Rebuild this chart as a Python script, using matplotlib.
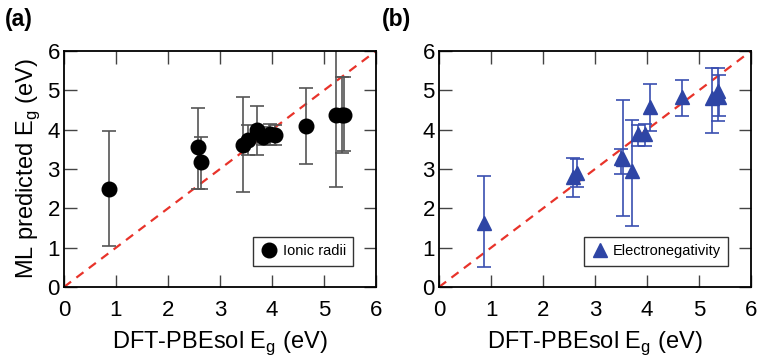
import matplotlib.pyplot as plt
from matplotlib.lines import Line2D
import numpy as np

plt.rcParams['font.family'] = ['Liberation Sans', 'DejaVu Sans']

# panel (a): ionic radii model
x_a = [0.86, 2.57, 2.64, 3.45, 3.53, 3.71, 3.83, 3.96, 4.06, 4.65, 5.23, 5.34, 5.38]
y_a = [2.50, 3.55, 3.18, 3.62, 3.75, 3.98, 3.82, 3.88, 3.86, 4.10, 4.37, 4.38, 4.38]
hi_a = [3.97, 4.55, 3.82, 4.82, 4.12, 4.60, 4.07, 4.15, 4.12, 5.05, 6.30, 5.35, 5.35]
lo_a = [1.05, 2.50, 2.50, 2.42, 3.35, 3.35, 3.60, 3.62, 3.60, 3.12, 2.55, 3.40, 3.45]

# panel (b): electronegativity model
x_b = [0.87, 2.58, 2.65, 3.50, 3.53, 3.72, 3.82, 3.97, 4.06, 4.67, 5.24, 5.36, 5.38]
y_b = [1.62, 2.80, 2.90, 3.28, 3.25, 2.95, 3.88, 3.90, 4.58, 4.82, 4.80, 4.98, 4.82]
hi_b = [2.83, 3.28, 3.25, 3.50, 4.75, 4.25, 4.12, 4.15, 5.15, 5.25, 5.58, 5.58, 5.38]
lo_b = [0.50, 2.30, 2.55, 2.88, 1.80, 1.55, 3.58, 3.58, 3.96, 4.35, 3.92, 4.22, 4.35]

ticks = [0, 1, 2, 3, 4, 5, 6]
red = '#e8332a'
blue = '#2e45a5'

fig = plt.figure(figsize=(7.58, 3.64), dpi=100)
ax1 = fig.add_axes([0.0844, 0.2115, 0.4116, 0.6484])
ax2 = fig.add_axes([0.5792, 0.2115, 0.4116, 0.6484])

panels = [
    (ax1, x_a, y_a, lo_a, hi_a, 'o', 'black', '#555555', 'Ionic radii', '(a)', 0.006),
    (ax2, x_b, y_b, lo_b, hi_b, '^', blue, '#3a4fb0', 'Electronegativity', '(b)', 0.504),
]

for ax, x, y, lo, hi, mk, mc, ec, lab, tag, tx in panels:
    y = np.array(y)
    yerr = [y - np.array(lo), np.array(hi) - y]
    ax.plot([0, 6], [0, 6], '--', color=red, lw=1.6, dashes=(4, 3), zorder=1)
    ax.errorbar(x, y, yerr=yerr, fmt='none', ecolor=ec, elinewidth=1.2,
                capsize=5, capthick=1.2, zorder=2)
    ax.plot(x, y, mk, color=mc, ms=10.5, ls='none', zorder=3, clip_on=False)
    ax.set_xlim(0, 6)
    ax.set_ylim(0, 6)
    ax.set_xticks(ticks)
    ax.set_yticks(ticks)
    ax.tick_params(direction='in', length=9, width=1, color='#444444',
                   top=True, right=True, labelsize=16)
    ax.tick_params(axis='x', pad=9)
    ax.tick_params(axis='y', pad=3)
    for s in ax.spines.values():
        s.set_linewidth(1.3)
    ax.set_xlabel('DFT-PBEsol E$_\\mathregular{g}$ (eV)', fontsize=17, labelpad=6)
    h = Line2D([], [], marker=mk, color=mc, ls='none', ms=10.5)
    leg = ax.legend([h], [lab], loc='lower right', fontsize=10.5, frameon=True,
                    fancybox=False, edgecolor='black', handletextpad=0.3,
                    borderpad=0.5, handlelength=1.2, bbox_to_anchor=(0.95, 0.06))
    leg.get_frame().set_linewidth(1.0)
    fig.text(tx, 0.978, tag, fontsize=16.5, fontweight='bold', va='top')

ax1.set_ylabel('ML predicted E$_\\mathregular{g}$ (eV)', fontsize=17, labelpad=4)

fig.savefig('out.png', dpi=100)
